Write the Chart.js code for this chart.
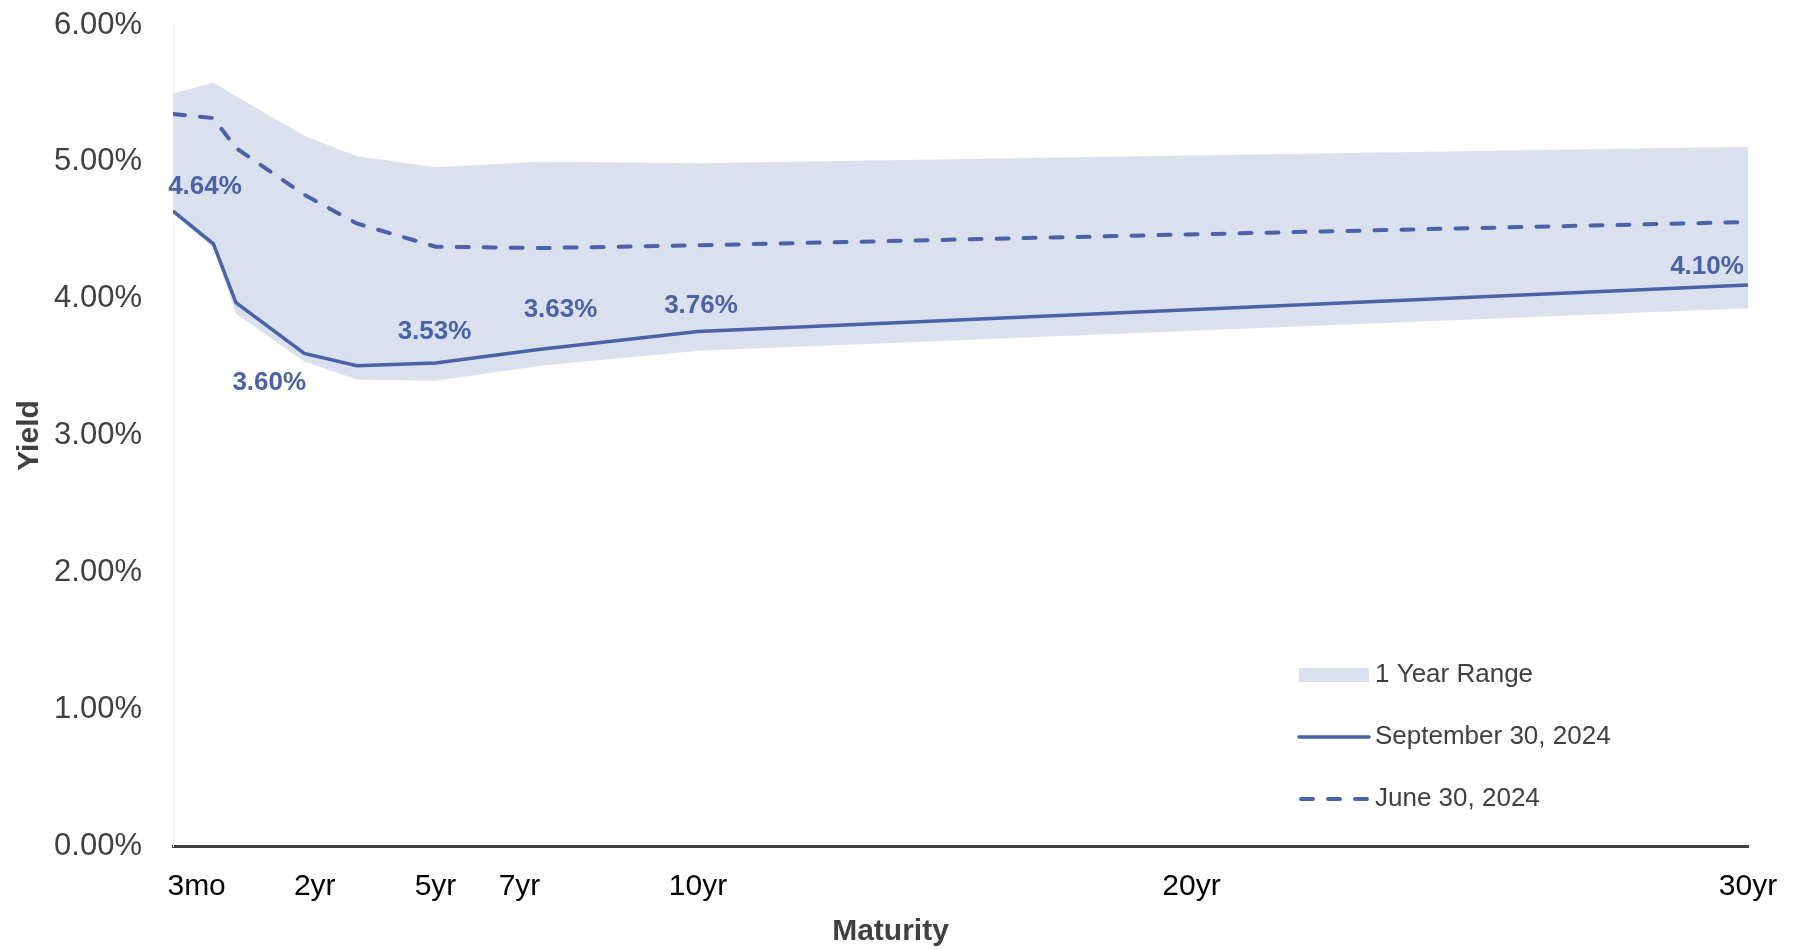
<!DOCTYPE html>
<html>
<head>
<meta charset="utf-8">
<script src="https://cdn.jsdelivr.net/npm/chart.js@4.4.1/dist/chart.umd.min.js"></script>
<style>
    html, body { margin: 0; padding: 0; background: #fff; }
    #wrap { width: 1795px; height: 949px; position: relative; }
</style>
</head>
<body>
<div id="wrap"><canvas id="yield-chart"></canvas></div>
<script>
/* Yield curve — Sep 30 vs Jun 30, 2024, with 1 year range band */

// x position of each maturity point on the axis (0 = 3mo ... 30 = 30yr)
const maturityX = [0, 0.77, 1.2, 2.5, 3.5, 5, 7, 10, 30];
const sep30 = [4.64, 4.40, 3.97, 3.60, 3.51, 3.53, 3.63, 3.76, 4.10];
const jun30 = [5.35, 5.32, 5.10, 4.76, 4.55, 4.38, 4.37, 4.39, 4.56];
const rangeHigh = [5.50, 5.58, 5.48, 5.19, 5.04, 4.96, 5.00, 4.99, 5.11];
const rangeLow = [4.62, 4.37, 3.89, 3.54, 3.41, 3.40, 3.51, 3.62, 3.93];

// x axis labels and where they sit
const tickPos = [0.45, 2.7, 5, 6.6, 10, 19.4, 30];
const tickLabels = ['3mo', '2yr', '5yr', '7yr', '10yr', '20yr', '30yr'];

const BLUE = '#4a62a6';
const BAND = '#dae0ee';
const GREY = '#404040';
const FONT = "'Liberation Sans', Arial, sans-serif";

const pts = arr => arr.map((v, i) => ({x: maturityX[i], y: v}));

// labelled points on the Sep 30 line, with nudges like the original
const labelSpots = [
    {i: 0, dx: 32, dy: -24},
    {i: 3, dx: -35, dy: 29},
    {i: 5, dx: -1, dy: -31},
    {i: 6, dx: 20, dy: -39},
    {i: 7, dx: 3, dy: -26},
    {i: 8, dx: -41, dy: -18},
];

const valueLabels = {
    id: 'valueLabels',
    afterDatasetsDraw(chart) {
        const meta = chart.getDatasetMeta(0);
        const ctx = chart.ctx;
        ctx.save();
        ctx.font = 'bold 26px ' + FONT;
        ctx.fillStyle = BLUE;
        ctx.textAlign = 'center';
        ctx.textBaseline = 'middle';
        for (const s of labelSpots) {
            const p = meta.data[s.i];
            ctx.fillText(sep30[s.i].toFixed(2) + '%', p.x + s.dx, p.y + s.dy);
        }
        ctx.restore();
    }
};

// legend box inside the plot + x axis title (centred on the page, not the plot)
const sideLegend = {
    id: 'sideLegend',
    afterDraw(chart) {
        const ctx = chart.ctx;
        const a = chart.chartArea;
        const x0 = a.left + 1126;
        const rows = [675, 737, 799];
        ctx.save();
        // 1 Year Range
        ctx.fillStyle = BAND;
        ctx.fillRect(x0, rows[0] - 7, 70, 14);
        // Sep 30 solid
        ctx.strokeStyle = BLUE;
        ctx.lineWidth = 3.5;
        ctx.lineCap = 'round';
        ctx.beginPath();
        ctx.moveTo(x0, rows[1]);
        ctx.lineTo(x0 + 70, rows[1]);
        ctx.stroke();
        // Jun 30 dashed
        ctx.lineWidth = 4;
        ctx.setLineDash([12, 15]);
        ctx.beginPath();
        ctx.moveTo(x0 + 2, rows[2]);
        ctx.lineTo(x0 + 70, rows[2]);
        ctx.stroke();
        ctx.setLineDash([]);

        ctx.font = '26px ' + FONT;
        ctx.fillStyle = GREY;
        ctx.textAlign = 'left';
        ctx.textBaseline = 'middle';
        const names = ['1 Year Range', 'September 30, 2024', 'June 30, 2024'];
        names.forEach((t, k) => ctx.fillText(t, x0 + 76, rows[k]));

        ctx.font = 'bold 30px ' + FONT;
        ctx.textAlign = 'center';
        ctx.fillText('Maturity', chart.width / 2 - 7, 932);
        ctx.restore();
    }
};

const ctx = document.getElementById('yield-chart');
new Chart(ctx.getContext('2d'), {
    type: 'line',
    data: {
        datasets: [
            {
                label: 'September 30, 2024',
                data: pts(sep30),
                borderColor: BLUE,
                borderWidth: 3.5,
                pointRadius: 0,
                fill: false,
                order: 1,
            },
            {
                label: 'June 30, 2024',
                data: pts(jun30),
                borderColor: BLUE,
                borderWidth: 4,
                borderDash: [12, 15],
                borderCapStyle: 'round',
                pointRadius: 0,
                fill: false,
                order: 1,
            },
            {
                label: '1 Year Range',
                data: pts(rangeHigh),
                borderWidth: 0,
                borderColor: 'transparent',
                backgroundColor: BAND,
                pointRadius: 0,
                fill: '+1',
                order: 2,
            },
            {
                label: 'range low',
                data: pts(rangeLow),
                borderWidth: 0,
                borderColor: 'transparent',
                pointRadius: 0,
                fill: false,
                order: 2,
            },
        ]
    },
    options: {
        responsive: true,
        maintainAspectRatio: false,
        animation: false,
        layout: { padding: { top: 25, right: 47, left: 0, bottom: 0 } },
        scales: {
            x: {
                type: 'linear',
                min: 0,
                max: 30,
                afterBuildTicks: scale => { scale.ticks = tickPos.map(v => ({value: v})); },
                afterFit: scale => {
                    scale.height = 103;
                    scale.paddingLeft = 0;
                    scale.paddingRight = 0;
                },
                grid: { display: false },
                border: { display: true, color: GREY, width: 3 },
                ticks: {
                    autoSkip: false,
                    maxRotation: 0,
                    padding: 15,
                    color: '#000',
                    font: { family: FONT, size: 30 },
                    callback: (v, i) => tickLabels[i],
                },
            },
            y: {
                min: 0,
                max: 6,
                afterFit: scale => {
                    scale.width = 173;
                    scale.paddingTop = 0;
                    scale.paddingBottom = 0;
                },
                grid: { display: false },
                border: { display: true, color: '#f0f0f4', width: 1 },
                ticks: {
                    stepSize: 1,
                    padding: 23,
                    color: GREY,
                    font: { family: FONT, size: 31 },
                    callback: v => v.toFixed(2) + '%',
                },
                title: {
                    display: true,
                    text: 'Yield',
                    color: GREY,
                    font: { family: FONT, size: 30, weight: 'bold' },
                    padding: { top: 12, bottom: 0 },
                },
            }
        },
        plugins: {
            legend: { display: false },
            tooltip: { enabled: false },
        }
    },
    plugins: [valueLabels, sideLegend]
});
</script>
</body>
</html>
